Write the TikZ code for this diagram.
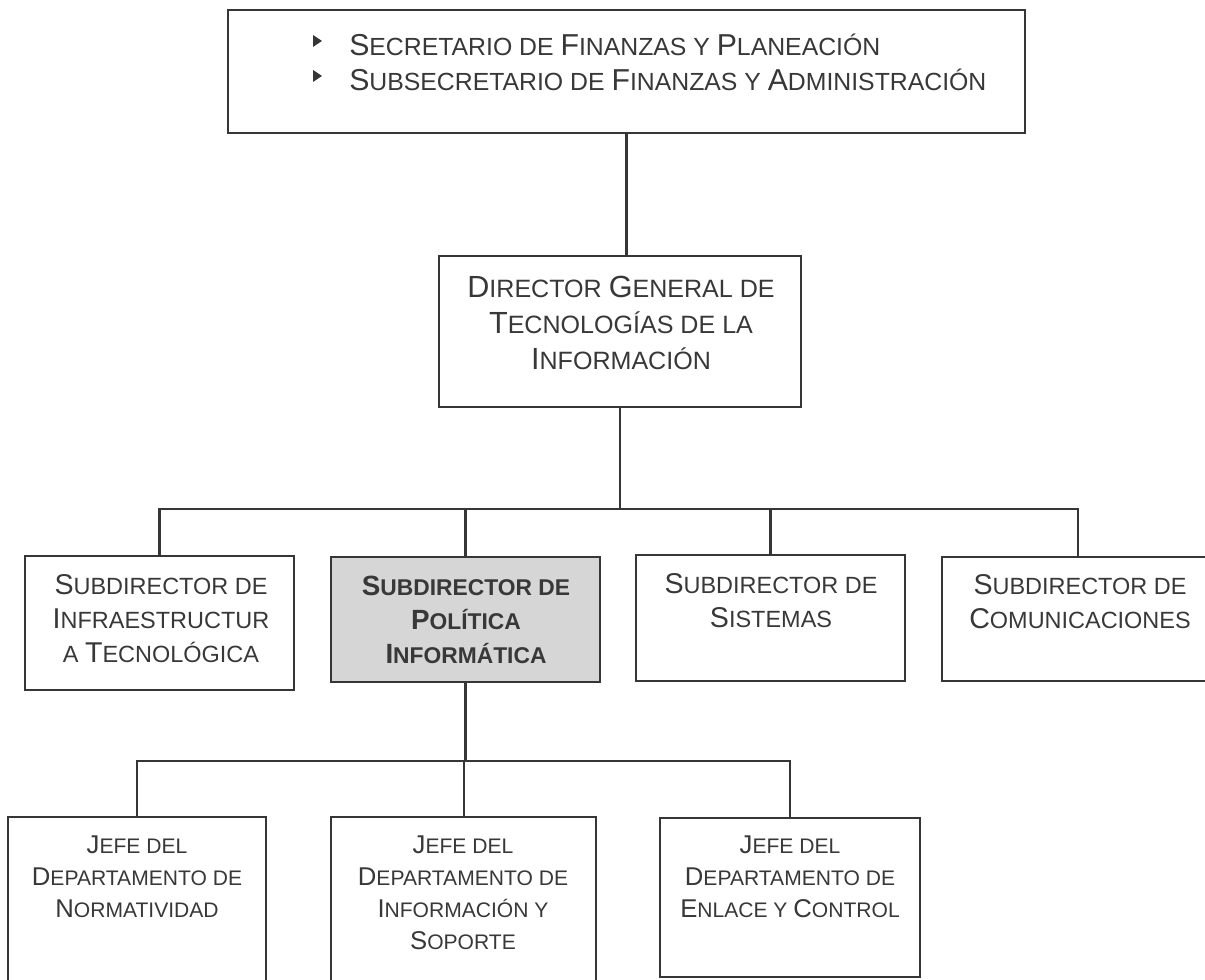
\documentclass[tikz,border=0pt]{standalone}
\usepackage{fontspec}
\setmainfont{Liberation Sans}
\usetikzlibrary{fit}
\definecolor{ink}{HTML}{363636}
\definecolor{txt}{HTML}{383838}
\definecolor{shade}{HTML}{D6D6D6}
\newcommand\C[1]{\scalebox{1.22}{#1}}
\tikzset{
  box/.style={draw=ink, line width=1.4pt, inner sep=0pt},
  conn/.style={draw=ink, line width=1.9pt},
  lbl/.style={text=txt, align=center, inner sep=0pt},
  topfont/.style={font=\fontsize{18.6pt}{26pt}\selectfont},
  dirfont/.style={font=\fontsize{18.8pt}{27pt}\selectfont},
  subfont/.style={font=\fontsize{17.6pt}{25.5pt}\selectfont},
  subbold/.style={font=\fontsize{17.1pt}{25.5pt}\selectfont\bfseries},
  jefefont/.style={font=\fontsize{15.8pt}{24pt}\selectfont},
}
\begin{document}
\begin{tikzpicture}[x=0.75pt,y=-0.75pt]
\useasboundingbox (0,0) rectangle (1205,980);
\clip (0,0) rectangle (1205,980);
% boxes
\node[box, fit={(228,10)(1025,133)}] (top) {};
\node[box, fit={(439,256)(801,407)}] (dir) {};
\node[box, fit={(25,556)(294,690)}] (b1) {};
\node[box, fill=shade, fit={(331,557)(600,682)}] (b2) {};
\node[box, fit={(636,555)(905,681)}] (b3) {};
\node[box, fit={(942,557)(1214,681)}] (b4) {};
\node[box, fit={(8,817)(266,1000)}] (b5) {};
\node[box, fit={(331,817)(596,1000)}] (b6) {};
\node[box, fit={(660,818)(920,977)}] (b7) {};
% connectors
\coordinate (j1) at (620,509);
\draw[conn] (top.south) -- (top.south |- dir.north);
\draw[conn] (dir.south) -- (j1);
\draw[conn] (b1.north) |- (j1) -| (b3.north);
\draw[conn] (j1) -| (b4.north);
\draw[conn] (b2.north) -- (b2.north |- j1);
\coordinate (j2) at (464,761);
\draw[conn] (b2.south) -- (b2.south |- j2);
\draw[conn] (b5.north) |- (j2) -| (b7.north);
\draw[conn] (j2) -- (j2 |- b6.north);
% bullets
\fill[ink] (313,35) -- (322,41) -- (313,47) -- cycle;
\fill[ink] (313,70) -- (322,76) -- (313,82) -- cycle;
% texts
\node[lbl, topfont, anchor=base west] (t1) at (349,56) {\C{S}ECRETARIO DE \C{F}INANZAS Y \C{P}LANEACIÓN};
\node[lbl, topfont, anchor=base west] (t2) at (349,91) {\C{S}UBSECRETARIO DE \C{F}INANZAS Y \C{A}DMINISTRACIÓN};
\node[lbl, dirfont] (dirt) at (621,323) {\C{D}IRECTOR \C{G}ENERAL DE\\\C{T}ECNOLOGÍAS DE LA\\\C{I}NFORMACIÓN};
\node[lbl, subfont] (b1t) at (161,619) {\C{S}UBDIRECTOR DE\\\C{I}NFRAESTRUCTUR\\A \C{T}ECNOLÓGICA};
\node[lbl, subbold] (b2t) at (466,620) {\C{S}UBDIRECTOR DE\\\C{P}OLÍTICA\\\C{I}NFORMÁTICA};
\node[lbl, subfont] (b3t) at (771,601) {\C{S}UBDIRECTOR DE\\\C{S}ISTEMAS};
\node[lbl, subfont] (b4t) at (1080,602) {\C{S}UBDIRECTOR DE\\\C{C}OMUNICACIONES};
\node[lbl, jefefont] (b5t) at (137,877) {\C{J}EFE DEL\\\C{D}EPARTAMENTO DE\\\C{N}ORMATIVIDAD};
\node[lbl, jefefont] (b6t) at (463,893) {\C{J}EFE DEL\\\C{D}EPARTAMENTO DE\\\C{I}NFORMACIÓN Y\\\C{S}OPORTE};
\node[lbl, jefefont] (b7t) at (790,877) {\C{J}EFE DEL\\\C{D}EPARTAMENTO DE\\\C{E}NLACE Y \C{C}ONTROL};
\end{tikzpicture}
\end{document}
